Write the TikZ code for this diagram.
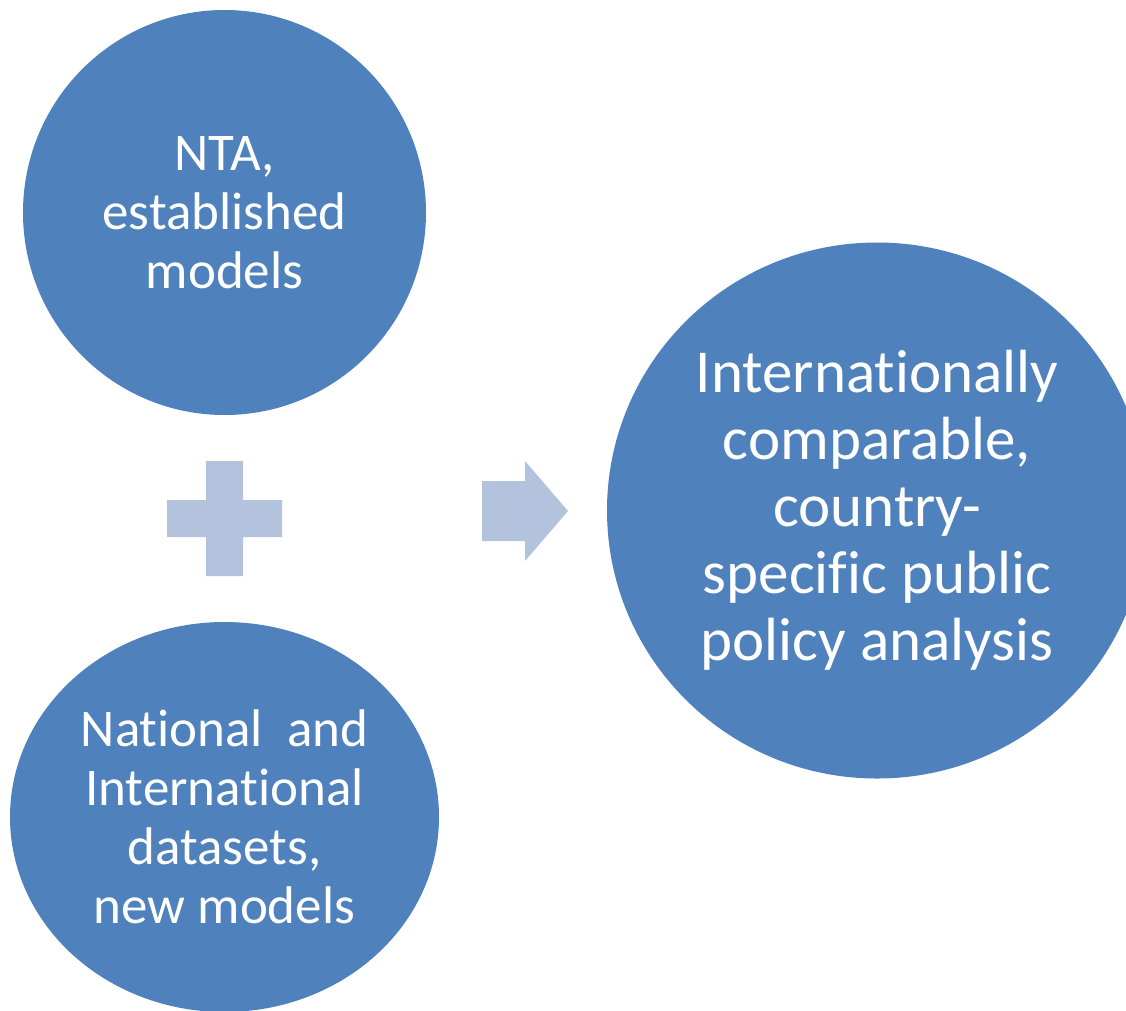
\documentclass[tikz,border=0pt]{standalone}
\usepackage{fontspec}
\setmainfont{Carlito}[Ligatures=NoCommon]
\usetikzlibrary{shapes.geometric}
\definecolor{bubble}{HTML}{4F81BD}
\definecolor{glyph}{HTML}{B3C2DD}
\begin{document}
\begin{tikzpicture}[x=1pt,y=-1pt,
  bubble/.style={ellipse, fill=bubble, inner sep=0pt, text=white, align=center},
  small/.style={font=\fontsize{53}{59}\selectfont},
  large/.style={font=\fontsize{61}{67}\selectfont}]
  \useasboundingbox (0,0) rectangle (1126,1010);
  \clip (0,0) rectangle (1126,1010);
  \fill[white] (0,0) rectangle (1126,1010);

  % inputs
  \node[bubble, small, minimum width=403pt, minimum height=405pt] (nta) at (224.5,212.5)
    {NTA,\\established\\models};
  \node[bubble, small, minimum width=429pt, minimum height=390pt] (data) at (224.5,817)
    {National\ \ and\\International\\datasets,\\new models};

  % result
  \node[bubble, large, minimum width=540pt, minimum height=536pt] (out) at (877,510.5)
    {Internationally\\comparable,\\country-\\specific public\\policy analysis};

  % plus sign
  \fill[glyph] (206,461) -- (243,461) -- (243,500) -- (282,500) -- (282,537)
    -- (243,537) -- (243,576) -- (206,576) -- (206,537) -- (167,537)
    -- (167,500) -- (206,500) -- cycle;

  % block arrow
  \fill[glyph] (482,481) -- (525,481) -- (525,461) -- (568,511) -- (525,561)
    -- (525,541) -- (482,541) -- cycle;
\end{tikzpicture}
\end{document}
